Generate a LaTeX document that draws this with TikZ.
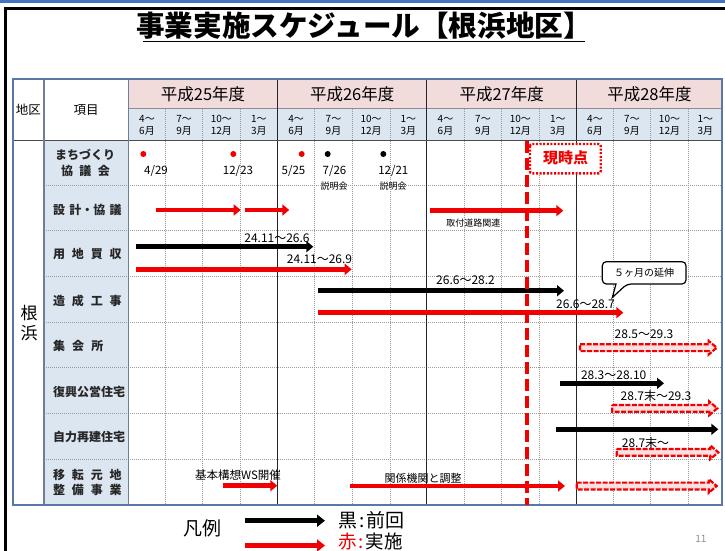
\documentclass[tikz,border=0pt]{standalone}
\usepackage{fontspec}
\setmainfont{Noto Sans CJK JP}
\usetikzlibrary{arrows.meta}
\definecolor{bandblue}{HTML}{4472C4}
\definecolor{tblborder}{HTML}{5A78A6}
\definecolor{colline}{HTML}{6F7F99}
\definecolor{pinkfill}{HTML}{F2DCDB}
\definecolor{bluefill}{HTML}{DCE6F1}
\definecolor{myred}{HTML}{F00000}
\definecolor{gridgray}{HTML}{9A9A9A}
\definecolor{pagegray}{HTML}{8C8C8C}
\newcommand\fs[1]{\fontsize{#1}{#1}\selectfont}
\newcommand\hollowarr[3]{%
  \draw[hollow] (#1,#3-3.4) -- (#2-8,#3-3.4) -- (#2-8,#3-6.8) -- (#2,#3)
    -- (#2-8,#3+6.8) -- (#2-8,#3+3.4) -- (#1,#3+3.4) -- cycle;}
\tikzset{
  base/.style={inner sep=0pt, outer sep=0pt},
  yearlbl/.style={base, font=\fs{16.5}},
  mon/.style={base, font=\fs{10}},
  item/.style={base, font=\fs{12}\bfseries, text=black!85},
  lbl/.style={base, font=\fs{12}},
  datelbl/.style={base, font=\fs{11.5}},
  small/.style={base, font=\fs{9}},
  gridline/.style={draw=gridgray, line width=0.6pt, dash pattern=on 1pt off 1pt},
  yearline/.style={draw=black!85, line width=0.8pt},
  redarr/.style={draw=myred, line width=4.5pt, -{Triangle[length=7pt,width=11pt]}},
  blkarr/.style={draw=black, line width=4.5pt, -{Triangle[length=7pt,width=11pt]}},
  hollow/.style={draw=myred, fill=myred!12, line width=2.2pt, dash pattern=on 5pt off 1.5pt},
  callout/.style={draw=black, fill=white, line width=1.2pt},
}
\begin{document}
\begin{tikzpicture}[x=1pt,y=-1pt]
\useasboundingbox (0,0) rectangle (725,551);
% top band and frame
\fill[bandblue] (0,0) rectangle (725,3.5);
\draw[line width=3pt] (5,560) -- (5,9) -- (730,9);
% title
\node[base, font=\fs{28.6}\bfseries] (title) at (364,26) {事業実施スケジュール【根浜地区】};
\draw[line width=1.5pt] (143,41.5) -- (585,41.5);

% table fills
\fill[pinkfill] (128.3,79) rectangle (722,108.5);
\fill[bluefill] (128.3,108.5) rectangle (722,140.5);
\fill[bluefill] (44,140.5) rectangle (128.3,505);

% grid
\foreach \x in {165.7,202.7,240,314.7,352.3,390,464.3,501.7,539,613.3,650.7,688.3}
  \draw[gridline] (\x,108.5) -- (\x,505);
\foreach \y in {185,230.7,276.7,322.3,367.7,413.3,459}
  \draw[gridline] (44,\y) -- (722,\y);
\draw[draw=black!45, line width=0.6pt] (128.3,108.5) -- (722,108.5);
\foreach \x in {277.7,426.7,576.7}
  \draw[yearline] (\x,79) -- (\x,505);
\draw[draw=black!70, line width=1.2pt] (13,140.5) -- (722,140.5);
\draw[draw=colline, line width=1.2pt] (44,79) -- (44,505);
\draw[draw=colline, line width=1.2pt] (128.3,79) -- (128.3,505);
\draw[draw=tblborder, line width=2pt] (13,79) rectangle (722,505);

% header texts
\node[base, font=\fs{12.5}] (hchiku) at (28.5,110) {地区};
\node[base, font=\fs{12.5}] (hkoumoku) at (86,110) {項目};
\node[yearlbl] (y25) at (203,94.5) {平成25年度};
\node[yearlbl] (y26) at (352.2,94.5) {平成26年度};
\node[yearlbl] (y27) at (501.7,94.5) {平成27年度};
\node[yearlbl] (y28) at (649.4,94.5) {平成28年度};
\foreach \c/\a/\b [count=\i] in {147/4/6, 184.2/7/9, 221.3/10/12, 258.8/1/3,
    296.2/4/6, 333.5/7/9, 371.1/10/12, 408.3/1/3,
    445.5/4/6, 483/7/9, 520.3/10/12, 557.8/1/3,
    595/4/6, 632/7/9, 669.5/10/12, 705.3/1/3}
  {\node[mon] (ma\i) at (\c,118.7) {{\a}〜};
   \node[mon] (mb\i) at (\c,131.3) {{\b}月};}

% district
\node[base, font=\fs{17}] (ne) at (29,313) {根};
\node[base, font=\fs{17}] (hama) at (29,333.5) {浜};

% item labels
\node[item] (it1a) at (85,155) {まちづくり};
\node[item] (it1b) at (85.5,171) {\makebox[49pt][s]{協 議 会}};
\node[item, anchor=west] (it2) at (53,209.5) {\makebox[68.7pt][s]{設 計・協 議}};
\node[item, anchor=west] (it3) at (53,254.3) {\makebox[68.7pt][s]{用 地 買 収}};
\node[item, anchor=west] (it4) at (53,300.7) {\makebox[68.7pt][s]{造 成 工 事}};
\node[item, anchor=west] (it5) at (53,346) {\makebox[50.3pt][s]{集 会 所}};
\node[item, anchor=west] (it6) at (53,391.7) {復興公営住宅};
\node[item, anchor=west] (it7) at (53,437.3) {自力再建住宅};
\node[item, anchor=west] (it8a) at (53,475) {\makebox[68.7pt][s]{移 転 元 地}};
\node[item, anchor=west] (it8b) at (53,490) {\makebox[68.7pt][s]{整 備 事 業}};

% row 1 events
\fill[myred] (143.3,154) circle (3pt);
\fill[myred] (233.3,154) circle (3pt);
\fill[myred] (301.7,154) circle (3pt);
\fill[black] (327.7,154) circle (3pt);
\fill[black] (383.3,154) circle (3pt);
\node[datelbl] (d1) at (156,171) {4/29};
\node[datelbl] (d2) at (238,171) {12/23};
\node[datelbl] (d3) at (293.5,171) {5/25};
\node[datelbl] (d4) at (334.5,171) {7/26};
\node[datelbl] (d5) at (393.3,171) {12/21};
\node[small] (s1) at (334,186) {説明会};
\node[small] (s2) at (393,186) {説明会};

% coordinates for bars
\coordinate (r1s) at (155.7,210);   \coordinate (r1e) at (240.7,210);
\coordinate (r2s) at (245,210);     \coordinate (r2e) at (289.3,210);
\coordinate (r3s) at (430,210.7);   \coordinate (r3e) at (563.3,210.7);
\coordinate (b1s) at (135.7,246.7); \coordinate (b1e) at (313.3,246.7);
\coordinate (r4s) at (135.7,269.3); \coordinate (r4e) at (351.7,269.3);
\coordinate (b2s) at (318.3,290.7); \coordinate (b2e) at (564,290.7);
\coordinate (r5s) at (318.3,312.7); \coordinate (r5e) at (623.3,312.7);
\coordinate (b3s) at (560,383.3);   \coordinate (b3e) at (664,383.3);
\coordinate (b4s) at (556,429.3);   \coordinate (b4e) at (718.3,429.3);
\coordinate (r6s) at (222.7,485.7); \coordinate (r6e) at (277.3,485.7);
\coordinate (r7s) at (350,486);     \coordinate (r7e) at (565,486);

\draw[redarr] (r1s) -- (r1e);
\draw[redarr] (r2s) -- (r2e);
\draw[redarr] (r3s) -- (r3e);
\draw[blkarr] (b1s) -- (b1e);
\draw[redarr] (r4s) -- (r4e);
\draw[blkarr] (b2s) -- (b2e);
\draw[redarr] (r5s) -- (r5e);
\draw[blkarr] (b3s) -- (b3e);
\draw[blkarr] (b4s) -- (b4e);
\draw[redarr] (r6s) -- (r6e);
\draw[redarr] (r7s) -- (r7e);

\hollowarr{580}{716.7}{347.7}
\hollowarr{612.3}{717.3}{408.3}
\hollowarr{616.7}{718.3}{452.3}
\hollowarr{576.7}{716.7}{486}

% bar labels
\node[small] (l0) at (473.3,222.7) {取付道路関連};
\node[lbl] (l1) at (277,238.3) {24.11〜26.6};
\node[lbl] (l2) at (319.5,259.3) {24.11〜26.9};
\node[lbl] (l3) at (465.5,280) {26.6〜28.2};
\node[lbl] (l4) at (585.5,304) {26.6〜28.7};
\node[lbl] (l5) at (644,334) {28.5〜29.3};
\node[lbl] (l6) at (613.7,375) {28.3〜28.10};
\node[lbl] (l7) at (656,396) {28.7末〜29.3};
\node[lbl] (l8) at (645.5,442.7) {28.7末〜};
\node[base, font=\fs{11.5}] (l9) at (238,475) {基本構想WS開催};
\node[base, font=\fs{11}] (l10) at (423,478) {関係機関と調整};

% current time line
\coordinate (nowtop) at (526.7,140.5);
\coordinate (nowbot) at (526.7,505);
\draw[draw=myred, line width=4pt, dash pattern=on 12pt off 5pt] (nowtop) -- (nowbot);
\draw[draw=myred, fill=white, line width=2.4pt, dash pattern=on 2pt off 1.6pt, rounded corners=2pt]
  (530,144) rectangle (600.7,173.3);
\node[base, font=\fs{15}\bfseries, text=myred] (now) at (565.5,158) {現時点};

% callout
\draw[callout] (602.3,273) [rounded corners=4pt] -- (602.3,261.7) -- (686,261.7) -- (686,284)
  -- (627,284) [sharp corners] -- (612.3,297.5) -- (616,284) [rounded corners=4pt] -- (602.3,284) -- cycle;
\node[base, font=\fs{10}] (co) at (644,273) {５ヶ月の延伸};

% legend
\node[base, font=\fs{19}] (hanrei) at (202.5,528.3) {凡例};
\coordinate (lgbs) at (245,520.7); \coordinate (lgbe) at (325,520.7);
\coordinate (lgrs) at (245,545.5); \coordinate (lgre) at (325,545.5);
\draw[draw=black, line width=5pt, -{Triangle[length=8pt,width=12pt]}] (lgbs) -- (lgbe);
\draw[draw=myred, line width=5pt, -{Triangle[length=8pt,width=12pt]}] (lgrs) -- (lgre);
\node[base, font=\fs{19}, anchor=west] (lgb) at (338,520) {黒\hspace{2pt}:\hspace{2pt}前回};
\node[base, font=\fs{18.5}, anchor=west] (lgr) at (338,541.5) {{\color{myred}赤\hspace{2pt}:}\hspace{2pt}実施};
\node[base, font=\fs{10}, text=pagegray] (page) at (700.8,539.3) {11};
\end{tikzpicture}
\end{document}
